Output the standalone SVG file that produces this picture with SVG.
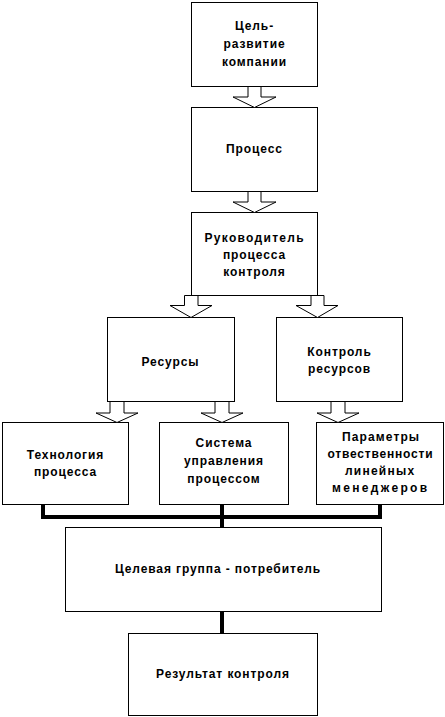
<svg xmlns="http://www.w3.org/2000/svg" width="445" height="717" viewBox="0 0 445 717">
<style>
.box{fill:#fff;stroke:#000;stroke-width:1}
.arr{fill:#fff;stroke:#000;stroke-width:1}
.bus{fill:none;stroke:#000;stroke-width:4}
text{font-family:"Liberation Sans",Arial,sans-serif;font-size:12px;font-weight:bold;fill:#000;text-anchor:middle;letter-spacing:0.9px}
</style>
<rect width="445" height="717" fill="#fff"/>
<g id="n1"><rect class="box" x="191.5" y="2.5" width="126" height="84"/>
<text x="254.5" y="30">Цель-</text><text x="254.5" y="48">развитие</text><text x="254.5" y="66">компании</text></g>
<g id="n2"><rect class="box" x="191.5" y="107.5" width="126" height="84"/>
<text x="254.5" y="153">Процесс</text></g>
<g id="n3"><rect class="box" x="191.5" y="212.5" width="126" height="83"/>
<text x="254.5" y="242" textLength="100" lengthAdjust="spacing">Руководитель</text><text x="254.5" y="259">процесса</text><text x="254.5" y="276">контроля</text></g>
<g id="n4"><rect class="box" x="107.5" y="317.5" width="127" height="84"/>
<text x="170.5" y="366">Ресурсы</text></g>
<g id="n5"><rect class="box" x="276.5" y="317.5" width="126" height="84"/>
<text x="339.5" y="356">Контроль</text><text x="339.5" y="373">ресурсов</text></g>
<g id="n6"><rect class="box" x="2.5" y="422.5" width="126" height="82"/>
<text x="65.5" y="459">Технология</text><text x="65.5" y="476">процесса</text></g>
<g id="n7"><rect class="box" x="159.5" y="422.5" width="129" height="82"/>
<text x="224" y="447">Система</text><text x="224" y="465">управления</text><text x="224" y="483">процессом</text></g>
<g id="n8"><rect class="box" x="316.5" y="422.5" width="127" height="82"/>
<text x="381" y="441" textLength="78" lengthAdjust="spacing">Параметры</text><text x="380.5" y="458" textLength="106" lengthAdjust="spacing">отвественности</text><text x="380" y="475" textLength="70" lengthAdjust="spacing">линейных</text><text x="380" y="492" textLength="96" lengthAdjust="spacing">менеджеров</text></g>
<g id="n9"><rect class="box" x="65.5" y="527.5" width="316" height="84"/>
<text x="218" y="573">Целевая группа - потребитель</text></g>
<g id="n10"><rect class="box" x="128.5" y="633.5" width="189" height="82"/>
<text x="223" y="678">Результат контроля</text></g>
<g id="connectors">
<path class="arr" d="M248,86.5 H261 V97 H276 L254.5,107.5 L233,97 H248 Z"/>
<path class="arr" d="M248,191.5 H261 V202 H276 L254.5,212.5 L233,202 H248 Z"/>
<path class="arr" d="M184.5,295.5 H198 V305.5 H212 L191,317.5 L170,305.5 H184.5 Z"/>
<path class="arr" d="M311,295.5 H324 V305.5 H338 L317.5,317.5 L296,305.5 H311 Z"/>
<path class="arr" d="M110,401.5 H124 V413 H138 L117,422.5 L96,413 H110 Z"/>
<path class="arr" d="M215,401.5 H229 V413 H243 L222,422.5 L201,413 H215 Z"/>
<path class="arr" d="M331,401.5 H345 V413 H359 L338,422.5 L317,413 H331 Z"/>
<path class="bus" d="M43,504 V517 H380 V504 M222,504 V527"/>
<path class="bus" d="M222,611 V633"/>
</g>
</svg>
